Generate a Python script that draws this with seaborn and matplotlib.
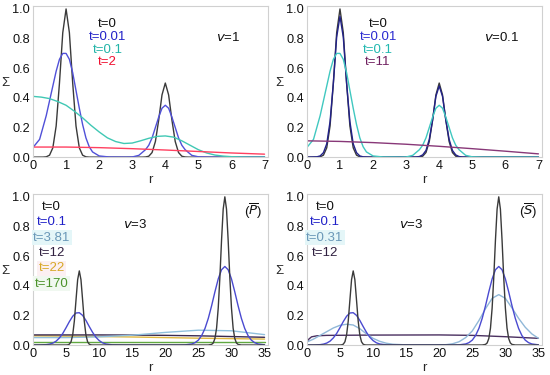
import numpy as np
import matplotlib
matplotlib.use("Agg")
import matplotlib.pyplot as plt
import seaborn as sns

# ---- panel (a) v=1 and (b) v=0.1, r from 0 to 7 ----
r_narrow = [0, 0.3, 0.4, 0.5, 0.6, 0.7, 0.8, 0.9, 1.0, 1.1, 1.2, 1.3, 1.4, 1.5, 1.6, 1.7,
            2.0, 3.3, 3.4, 3.5, 3.6, 3.7, 3.8, 3.9, 4.0, 4.1, 4.2, 4.3, 4.4, 4.5, 4.6, 4.7, 5.0, 7.0]
sig_t0_small = [0, 0.0002, 0.002, 0.013, 0.063, 0.21, 0.50, 0.84, 1.0, 0.84, 0.50, 0.21, 0.063, 0.013, 0.002, 0,
                0, 0, 0.001, 0.006, 0.031, 0.105, 0.25, 0.42, 0.5, 0.42, 0.25, 0.105, 0.031, 0.006, 0.001, 0, 0, 0]
sig_b_t001 = [0, 0.002, 0.008, 0.03, 0.09, 0.24, 0.5, 0.81, 0.95, 0.81, 0.5, 0.24, 0.09, 0.03, 0.008, 0.002,
              0, 0.001, 0.004, 0.015, 0.045, 0.12, 0.25, 0.41, 0.48, 0.41, 0.25, 0.12, 0.045, 0.015, 0.004, 0.001, 0, 0]

r_wide = [0, 0.2, 0.4, 0.5, 0.6, 0.7, 0.8, 0.9, 1.0, 1.1, 1.2, 1.3, 1.4, 1.5, 1.6, 1.7, 1.8, 2.0, 2.3,
          2.8, 3.0, 3.2, 3.4, 3.5, 3.6, 3.7, 3.8, 3.9, 4.0, 4.1, 4.2, 4.3, 4.4, 4.5, 4.6, 4.8, 5.0, 5.3, 7.0]
sig_spread = [0.065, 0.12, 0.28, 0.38, 0.48, 0.58, 0.66, 0.70, 0.70, 0.66, 0.57, 0.45, 0.33, 0.22, 0.13, 0.07, 0.035,
              0.008, 0.001, 0, 0.001, 0.012, 0.05, 0.08, 0.13, 0.2, 0.27, 0.33, 0.35, 0.33, 0.27, 0.2, 0.13, 0.08,
              0.05, 0.012, 0.002, 0, 0]

r_quarter = [0, 0.25, 0.5, 0.75, 1.0, 1.25, 1.5, 1.75, 2.0, 2.25, 2.5, 2.75, 3.0, 3.25, 3.5, 3.75, 4.0,
             4.25, 4.5, 4.75, 5.0, 5.25, 5.5, 5.75, 6.0, 6.25, 6.5, 6.75, 7.0]
sig_a_t01 = [0.41, 0.405, 0.395, 0.375, 0.35, 0.31, 0.265, 0.215, 0.17, 0.13, 0.105, 0.092, 0.095, 0.11, 0.127,
             0.14, 0.143, 0.135, 0.11, 0.08, 0.05, 0.028, 0.014, 0.007, 0.003, 0.001, 0, 0, 0]

r_line = [0, 1, 2, 3, 4, 5, 6, 7]
sig_a_t2 = [0.068, 0.068, 0.064, 0.057, 0.048, 0.038, 0.028, 0.02]
sig_b_t11 = [0.11, 0.106, 0.098, 0.087, 0.073, 0.057, 0.04, 0.022]

# ---- panels (c) P-bar and (d) S-bar, v=3, r from 0 to 35 ----
r_init = [0, 4.5, 5, 5.25, 5.5, 5.75, 6, 6.25, 6.5, 6.75, 7, 7.25, 7.5, 7.75, 8, 8.25, 8.5, 8.75, 9, 9.5,
          26, 26.5, 27, 27.25, 27.5, 27.75, 28, 28.25, 28.5, 28.75, 29, 29.25, 29.5, 29.75, 30, 30.25, 30.5,
          30.75, 31, 31.5, 32, 35]
sig_t0_big = [0, 0, 0, 0.001, 0.0055, 0.022, 0.068, 0.162, 0.303, 0.441, 0.5, 0.441, 0.303, 0.162, 0.068, 0.022,
              0.0055, 0.001, 0, 0, 0, 0, 0.004, 0.014, 0.044, 0.114, 0.25, 0.458, 0.707, 0.917, 1.0, 0.917, 0.707,
              0.458, 0.25, 0.114, 0.044, 0.014, 0.004, 0, 0, 0]

r_mid = [0, 1, 2, 2.5, 3, 3.5, 4, 4.5, 5, 5.5, 6, 6.5, 7, 7.5, 8, 8.5, 9, 9.5, 10, 10.5, 11, 12, 14,
         22, 23, 24, 24.5, 25, 25.5, 26, 26.5, 27, 27.5, 28, 28.5, 29, 29.5, 30, 30.5, 31, 31.5, 32, 32.5,
         33, 33.5, 34, 35]
sig_t01_big = [0, 0, 0.0024, 0.006, 0.013, 0.026, 0.048, 0.078, 0.117, 0.158, 0.194, 0.216, 0.218, 0.2, 0.166,
               0.125, 0.086, 0.053, 0.03, 0.015, 0.007, 0.001, 0, 0, 0.001, 0.007, 0.016, 0.033, 0.064, 0.112,
               0.18, 0.265, 0.359, 0.446, 0.508, 0.53, 0.508, 0.446, 0.359, 0.265, 0.18, 0.112, 0.064, 0.033,
               0.016, 0.007, 0.001]

r_flat = [0, 5, 10, 15, 20, 25, 30, 35]
sig_c_t381 = [0.05, 0.05, 0.055, 0.066, 0.085, 0.1, 0.096, 0.07]
sig_c_t12 = [0.068, 0.068, 0.068, 0.067, 0.065, 0.062, 0.057, 0.052]
sig_c_t22 = [0.062, 0.06, 0.057, 0.054, 0.05, 0.046, 0.043, 0.04]
sig_c_t170 = [0.018, 0.018, 0.018, 0.018, 0.018, 0.018, 0.018, 0.018]

r_loose = [0, 1, 2, 3, 4, 5, 6, 7, 8, 9, 10, 11, 12, 13, 15, 18, 21, 22, 23, 24, 25, 26, 27, 28, 29, 30,
           31, 32, 33, 34, 35]
sig_d_t031 = [0.02, 0.04, 0.065, 0.09, 0.115, 0.133, 0.14, 0.135, 0.11, 0.075, 0.045, 0.025, 0.012, 0.005,
              0.001, 0, 0.002, 0.008, 0.022, 0.05, 0.095, 0.165, 0.245, 0.315, 0.34, 0.315, 0.25, 0.18, 0.12,
              0.075, 0.045]

r_late = [0, 0.3, 0.7, 1.5, 3, 10, 20, 25, 30, 35]
sig_d_t12 = [0.02, 0.04, 0.055, 0.062, 0.065, 0.067, 0.068, 0.065, 0.056, 0.045]

sns.set_theme(style="white")
plt.rcParams["font.family"] = ["Liberation Sans", "DejaVu Sans"]
plt.rcParams["mathtext.fontset"] = "dejavusans"

fig = plt.figure(figsize=(5.5, 3.75), dpi=100)
ax_a = fig.add_axes([0.06, 0.581, 0.427, 0.403])
ax_b = fig.add_axes([0.558, 0.581, 0.427, 0.403])
ax_c = fig.add_axes([0.06, 0.08, 0.427, 0.403])
ax_d = fig.add_axes([0.558, 0.08, 0.427, 0.403])


def curve(ax, r, s, color):
    sns.lineplot(x=r, y=s, color=color, lw=1.0, sort=False, ax=ax)


def style_axes(ax, xmax, xticks):
    ax.set_xlim(0, xmax)
    ax.set_ylim(0, 1.02)
    ax.set_xticks(xticks)
    ax.set_yticks([0, 0.2, 0.4, 0.6, 0.8, 1.0])
    ax.set_yticklabels(["0.0", "0.2", "0.4", "0.6", "0.8", "1.0"])
    ax.tick_params(length=0, labelsize=9.2, pad=2, colors="#111111")
    for sp in ax.spines.values():
        sp.set_color("#d0d0d0")
        sp.set_linewidth(0.8)
    ax.set_xlabel("r", fontsize=9.5, va="center")
    ax.xaxis.set_label_coords(0.5, -0.15)
    ax.set_ylabel("Σ", fontsize=9.5, rotation=0, ha="center", va="center")
    ax.yaxis.set_label_coords(-0.117, 0.49)


def labels(ax, x, y0, dy, items, fs=9.5):
    for i, (txt, col, bg) in enumerate(items):
        kw = {}
        if bg:
            kw["bbox"] = dict(boxstyle="square,pad=0.1", fc=bg, ec="none")
        ax.text(x, y0 - i * dy, txt, color=col, ha="center", va="center", fontsize=fs, **kw)


# (a) v = 1
curve(ax_a, r_narrow, sig_t0_small, "#3a3a3a")
curve(ax_a, r_wide, sig_spread, "#5050d8")
curve(ax_a, r_quarter, sig_a_t01, "#40c8b4")
curve(ax_a, r_line, sig_a_t2, "#ff4060")
style_axes(ax_a, 7.1, range(0, 8))
labels(ax_a, 2.25, 0.9, 0.087, [("t=0", "#111111", None), ("t=0.01", "#2222c8", None),
                                ("t=0.1", "#22b4a8", None), ("t=2", "#f01030", None)])
ax_a.text(5.9, 0.81, r"$v$=1", ha="center", va="center", fontsize=9.5, color="#111111")

# (b) v = 0.1
curve(ax_b, r_narrow, sig_t0_small, "#3a3a3a")
curve(ax_b, r_narrow, sig_b_t001, "#22228a")
curve(ax_b, r_wide, sig_spread, "#40c8c0")
curve(ax_b, r_line, sig_b_t11, "#883878")
style_axes(ax_b, 7.1, range(0, 8))
labels(ax_b, 2.15, 0.9, 0.087, [("t=0", "#111111", None), ("t=0.01", "#2a2ad0", None),
                                ("t=0.1", "#22b8b0", None), ("t=11", "#702060", None)])
ax_b.text(5.9, 0.81, r"$v$=0.1", ha="center", va="center", fontsize=9.5, color="#111111")

# (c) P-bar, v = 3
curve(ax_c, r_flat, sig_c_t170, "#60a840")
curve(ax_c, r_flat, sig_c_t22, "#e0b840")
curve(ax_c, r_flat, sig_c_t12, "#3a2a50")
curve(ax_c, r_flat, sig_c_t381, "#90c0dc")
curve(ax_c, r_mid, sig_t01_big, "#4a4ad0")
curve(ax_c, r_init, sig_t0_big, "#3a3a3a")
style_axes(ax_c, 35.5, range(0, 36, 5))
labels(ax_c, 2.8, 0.93, 0.103, [("t=0", "#111111", None), ("t=0.1", "#2020c8", None),
                                ("t=3.81", "#6a98b8", "#e4f6f8"), ("t=12", "#302040", None),
                                ("t=22", "#d8a828", "#fcf0f2"), ("t=170", "#4a9228", "#f0f8f0")])
ax_c.text(15.5, 0.81, r"$v$=3", ha="center", va="center", fontsize=9.5, color="#111111")
ax_c.text(33.2, 0.90, r"($\overline{P}$)", ha="center", va="center", fontsize=9.5, color="#111111")

# (d) S-bar, v = 3
curve(ax_d, r_late, sig_d_t12, "#4a3060")
curve(ax_d, r_loose, sig_d_t031, "#90b8d8")
curve(ax_d, r_mid, sig_t01_big, "#4a4ad0")
curve(ax_d, r_init, sig_t0_big, "#3a3a3a")
style_axes(ax_d, 35.5, range(0, 36, 5))
labels(ax_d, 2.7, 0.93, 0.103, [("t=0", "#111111", None), ("t=0.1", "#2020c8", None),
                                ("t=0.31", "#6a98b8", "#e4f6f8"), ("t=12", "#302040", None)])
ax_d.text(15.8, 0.81, r"$v$=3", ha="center", va="center", fontsize=9.5, color="#111111")
ax_d.text(33.4, 0.90, r"($\overline{S}$)", ha="center", va="center", fontsize=9.5, color="#111111")

fig.savefig("out.png", dpi=100)
